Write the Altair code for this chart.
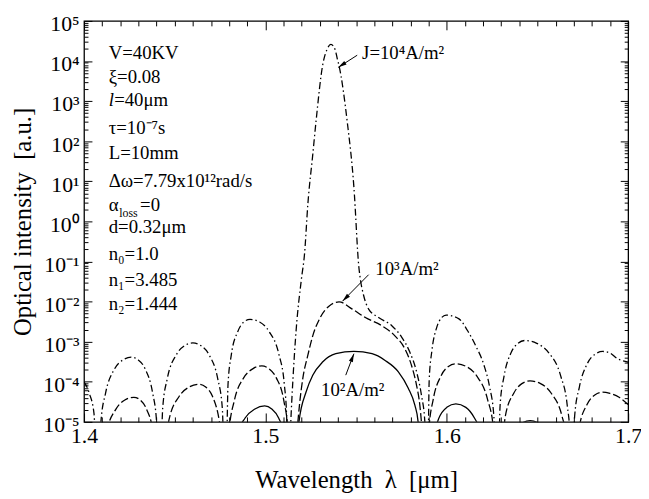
import altair as alt
import pandas as pd

FONT = "Liberation Serif"

# ---- series (wavelength in um, optical intensity in a.u.) ----
# J = 10^4 A/m^2  (dash-dot)
j4 = [(1.4000, 1.0e-4), (1.4030, 5.0e-5), (1.4055, 1.6e-5), (1.4075, 1e-7),
      (1.4093, 1.0e-5), (1.4119, 5.3e-5), (1.4167, 2.05e-4), (1.4214, 3.5e-4), (1.4260, 4.1e-4),
      (1.4299, 3.5e-4), (1.4338, 2.05e-4), (1.4378, 5.3e-5), (1.4400, 1.0e-5), (1.4415, 1e-7),
      (1.4434, 2.3e-5), (1.4459, 1.2e-4), (1.4508, 4.65e-4), (1.4554, 7.9e-4), (1.4600, 9.3e-4),
      (1.4645, 7.9e-4), (1.4690, 4.65e-4), (1.4737, 1.2e-4), (1.4762, 2.3e-5), (1.4780, 1e-7),
      (1.4794, 8.8e-5), (1.4812, 4.7e-4), (1.4848, 1.8e-3), (1.4881, 3.1e-3), (1.4915, 3.6e-3),
      (1.4968, 3.1e-3), (1.5020, 1.8e-3), (1.5075, 4.7e-4), (1.5104, 8.8e-5), (1.5117, 1.4e-5), (1.5125, 1e-7),
      (1.5140, 1.0e-5), (1.5152, 1.2e-4), (1.5170, 2.1e-3), (1.5198, 3.5e-2), (1.5216, 1.6e-1),
      (1.5234, 2.7), (1.5261, 46.0), (1.5279, 310.0), (1.5315, 7.6e3), (1.5343, 2.1e4),
      (1.5361, 2.6e4), (1.5384, 1.95e4), (1.5397, 1.1e4), (1.5406, 7.6e3), (1.5451, 310.0),
      (1.5488, 7.0), (1.5515, 7.4e-2), (1.5524, 3.5e-2), (1.5542, 1.4e-2), (1.5569, 6.5e-3),
      (1.5624, 4.0e-3), (1.5697, 2.5e-3), (1.5751, 1.3e-3), (1.5796, 5.5e-4), (1.5833, 1.8e-4),
      (1.5860, 4.7e-5), (1.5879, 1.0e-5), (1.5893, 1e-7),
      (1.5903, 1.1e-4), (1.5918, 6.0e-4), (1.5945, 2.3e-3), (1.5970, 3.9e-3), (1.5996, 4.6e-3),
      (1.6067, 3.7e-3), (1.6114, 1.9e-3), (1.6160, 7.8e-4), (1.6205, 2.6e-4), (1.6235, 7.8e-5),
      (1.6260, 1.3e-5), (1.6280, 1e-7),
      (1.6294, 2.6e-5), (1.6316, 1.4e-4), (1.6355, 5.35e-4), (1.6393, 9.1e-4), (1.6431, 1.07e-3),
      (1.6496, 9.1e-4), (1.6561, 5.35e-4), (1.6628, 1.4e-4), (1.6664, 2.6e-5), (1.6680, 4.2e-6), (1.6690, 1e-7),
      (1.6705, 1.4e-5), (1.6731, 7.4e-5), (1.6775, 2.85e-4), (1.6818, 4.9e-4), (1.6860, 5.7e-4),
      (1.6900, 5.2e-4), (1.6940, 3.8e-4), (1.7000, 3.1e-4)]

# J = 10^3 A/m^2  (dashed)
j3 = [(1.4000, 9e-6), (1.4035, 4e-6), (1.4075, 1e-7),
      (1.4123, 5.3e-6), (1.4175, 2.05e-5), (1.4225, 3.5e-5), (1.4275, 4.1e-5), (1.4310, 3.5e-5),
      (1.4345, 2.05e-5), (1.4381, 5.3e-6), (1.4415, 1e-7),
      (1.4468, 1.1e-5), (1.4525, 4.35e-5), (1.4580, 7.4e-5), (1.4635, 8.7e-5), (1.4671, 7.4e-5),
      (1.4708, 4.35e-5), (1.4745, 1.1e-5), (1.4766, 2.1e-6), (1.4780, 1e-7),
      (1.4800, 6.1e-6), (1.4828, 3.3e-5), (1.4880, 1.25e-4), (1.4930, 2.1e-4), (1.4980, 2.5e-4),
      (1.5020, 2.1e-4), (1.5060, 1.25e-4), (1.5102, 3.3e-5), (1.5124, 6.1e-6), (1.5140, 1e-7),
      (1.5179, 1.0e-5), (1.5188, 2.7e-5), (1.5206, 1.2e-4), (1.5234, 4.6e-4), (1.5261, 1.4e-3),
      (1.5297, 3.6e-3), (1.5352, 7.8e-3), (1.5406, 9.8e-3), (1.5479, 6.5e-3), (1.5551, 4.0e-3),
      (1.5642, 2.5e-3), (1.5714, 1.4e-3), (1.5769, 6.6e-4), (1.5805, 2.6e-4), (1.5833, 8.3e-5),
      (1.5851, 2.7e-5), (1.5860, 1.0e-5), (1.5885, 1e-7),
      (1.5902, 6.9e-6), (1.5925, 3.6e-5), (1.5968, 1.4e-4), (1.6009, 2.4e-4), (1.6050, 2.8e-4),
      (1.6108, 2.4e-4), (1.6165, 1.4e-4), (1.6225, 3.6e-5), (1.6257, 6.9e-6), (1.6280, 1e-7),
      (1.6323, 1.4e-5), (1.6370, 5.25e-5), (1.6414, 9.0e-5), (1.6459, 1.05e-4), (1.6517, 9.0e-5),
      (1.6575, 5.25e-5), (1.6635, 1.4e-5), (1.6667, 2.6e-6), (1.6690, 1e-7),
      (1.6730, 7.2e-6), (1.6774, 2.75e-5), (1.6816, 4.7e-5), (1.6858, 5.5e-5), (1.6900, 5.1e-5),
      (1.6950, 4.1e-5), (1.7000, 2.7e-5)]

# J = 10^2 A/m^2  (solid)
j2 = [(1.4000, 2e-6), (1.4075, 1e-7), (1.4275, 4e-6), (1.4415, 1e-7), (1.4635, 8e-6), (1.4780, 1e-7),
      (1.4832, 3.3e-6), (1.4888, 1.25e-5), (1.4942, 2.1e-5), (1.4996, 2.5e-5), (1.5035, 2.1e-5),
      (1.5073, 1.25e-5), (1.5113, 3.3e-6), (1.5150, 1e-7),
      (1.5185, 1.0e-5), (1.5225, 5.7e-5), (1.5261, 1.45e-4), (1.5315, 3.1e-4), (1.5388, 5.0e-4),
      (1.5488, 5.7e-4), (1.5588, 5.0e-4), (1.5660, 3.4e-4), (1.5733, 1.77e-4), (1.5787, 7.0e-5),
      (1.5824, 2.6e-5), (1.5842, 1.0e-5), (1.5865, 1e-7),
      (1.5925, 4e-6), (1.5955, 1.2e-5), (1.6000, 2.3e-5), (1.6050, 2.8e-5), (1.6105, 2.3e-5),
      (1.6155, 1.2e-5), (1.6200, 4e-6), (1.6260, 1e-7),
      (1.6350, 4e-6), (1.6410, 9e-6), (1.6460, 1.08e-5), (1.6510, 9e-6), (1.6580, 4e-6), (1.6690, 1e-7),
      (1.6780, 3e-6), (1.6860, 5e-6), (1.7000, 3e-6)]

# ---- ticks ----
x_major = [1.4, 1.5, 1.6, 1.7]
x_minor = [round(1.4 + 0.01 * i, 2) for i in range(1, 30) if i % 10]
y_major = [10.0 ** k for k in range(-5, 6)]
y_minor = [m * 10.0 ** k for k in range(-5, 5) for m in range(2, 10)]

# ---- annotations ----
param_txt = ["V=40KV", "ξ=0.08", "=40μm", "τ=10⁻⁷s", "L=10mm", "Δω=7.79x10¹²rad/s",
             "α", "=0", "d=0.32μm", "n₀=1.0", "n₁=3.485", "n₂=1.444"]
param_lam = [1.4136, 1.4136, 1.4166, 1.4136, 1.4136, 1.4136,
             1.4136, 1.4309, 1.4136, 1.4136, 1.4136, 1.4136]
param_exp = [4.204, 3.596, 3.017, 2.323, 1.700, 1.010,
             0.406, 0.406, -0.141, -0.813, -1.453, -2.069]
ital_txt, ital_lam, ital_exp = ["l"], [1.4136], [3.017]
sub_txt, sub_lam, sub_exp = ["loss"], [1.4194], [0.197]

label_txt = ["J=10⁴A/m²", "10³A/m²", "10²A/m²"]
label_lam = [1.5533, 1.5606, 1.5307]
label_exp = [4.187, -1.182, -4.200]

arrow_lam = [1.5506, 1.5569, 1.5443]
arrow_exp = [4.145, -1.330, -3.835]
head_lam = [1.5402, 1.5425, 1.5488]
head_exp = [3.842, -1.990, -3.300]
head_ang = [237, 225, 21]


def frame(pairs):
    return pd.DataFrame(pairs, columns=["lam", "val"])


df_j4, df_j3, df_j2 = frame(j4), frame(j3), frame(j2)
df_par = pd.DataFrame({"txt": param_txt, "lam": param_lam, "val": [10 ** e for e in param_exp]})
df_ita = pd.DataFrame({"txt": ital_txt, "lam": ital_lam, "val": [10 ** e for e in ital_exp]})
df_sub = pd.DataFrame({"txt": sub_txt, "lam": sub_lam, "val": [10 ** e for e in sub_exp]})
df_lab = pd.DataFrame({"txt": label_txt, "lam": label_lam, "val": [10 ** e for e in label_exp]})
df_arr = pd.DataFrame({"lam": arrow_lam, "val": [10 ** e for e in arrow_exp],
                       "lam2": head_lam, "val2": [10 ** e for e in head_exp], "ang": head_ang})

xs = alt.Scale(domain=[1.4, 1.7], nice=False, zero=False)
ys = alt.Scale(type="log", domain=[1e-5, 1e5], nice=False)

sup_expr = ("'10' + (datum.value < 1 ? '⁻' : '') + "
            "['⁰','¹','²','³','⁴','⁵'][round(abs(log(datum.value) / LN10))]")

ax_x_lab = alt.Axis(orient="bottom", values=x_major, format=".1f", labelFont=FONT, labelFontSize=22,
                    labelColor="black", labelPadding=4, labelFlush=False, labelOverlap=False,
                    ticks=False, tickSize=0, domain=False, grid=False,
                    title="Wavelength\u00a0\u00a0λ\u00a0\u00a0[μm]", titleFont=FONT, titleFontSize=25,
                    titleFontWeight="normal", titleColor="black", titlePadding=21)
ax_y_lab = alt.Axis(orient="left", values=y_major, labelExpr=sup_expr, labelFont=FONT, labelFontSize=22,
                    labelColor="black", labelPadding=5, labelOffset=3, labelFlush=False, labelOverlap=False,
                    ticks=False, tickSize=0, domain=False, grid=False,
                    title="Optical intensity\u00a0\u00a0[a.u.]", titleFont=FONT, titleFontSize=25,
                    titleFontWeight="normal", titleColor="black", titlePadding=8)


def tick_axis(orient, values, size):
    return alt.Axis(orient=orient, values=values, labels=False, ticks=True, tickSize=size,
                    offset=-size, tickColor="black", tickWidth=1, domain=False, grid=False, title=None)


def xe(field, axis):
    return alt.X(field, type="quantitative", scale=xs, axis=axis)


def ye(field, axis):
    return alt.Y(field, type="quantitative", scale=ys, axis=axis)


line_kw = dict(clip=True, color="black", strokeWidth=1.3, interpolate="monotone")

solid = alt.Chart(df_j2).mark_line(**line_kw).encode(x=xe("lam", ax_x_lab), y=ye("val", ax_y_lab))
dashed = alt.Chart(df_j3).mark_line(strokeDash=[8, 3], **line_kw).encode(
    x=xe("lam", tick_axis("bottom", x_major, 9)), y=ye("val", tick_axis("left", y_major, 8)))
dashdot = alt.Chart(df_j4).mark_line(strokeDash=[7, 3, 1.5, 3], **line_kw).encode(
    x=xe("lam", tick_axis("bottom", x_minor, 5)), y=ye("val", tick_axis("left", y_minor, 4)))

arrows = alt.Chart(df_arr).mark_rule(color="black", strokeWidth=1).encode(
    x=xe("lam", tick_axis("top", x_major, 9)), y=ye("val", tick_axis("right", y_major, 8)),
    x2="lam2:Q", y2="val2:Q")
heads = alt.Chart(df_arr).mark_point(shape="M0,0L0.45,1.8L-0.45,1.8Z", filled=True, fill="black",
                                     opacity=1, size=90, strokeWidth=0).encode(
    x=xe("lam2", tick_axis("top", x_minor, 5)), y=ye("val2", tick_axis("right", y_minor, 4)),
    angle=alt.Angle("ang:Q", scale=None))

txt_kw = dict(align="left", baseline="middle", font=FONT, color="black")
t_par = alt.Chart(df_par).mark_text(fontSize=19, **txt_kw).encode(
    x=xe("lam", None), y=ye("val", None), text="txt:N")
t_ita = alt.Chart(df_ita).mark_text(fontSize=19, fontStyle="italic", **txt_kw).encode(
    x=xe("lam", None), y=ye("val", None), text="txt:N")
t_sub = alt.Chart(df_sub).mark_text(fontSize=12, **txt_kw).encode(
    x=xe("lam", None), y=ye("val", None), text="txt:N")
t_lab = alt.Chart(df_lab).mark_text(fontSize=19, **txt_kw).encode(
    x=xe("lam", None), y=ye("val", None), text="txt:N")

chart = alt.layer(solid, dashed, dashdot, arrows, heads, t_par, t_ita, t_sub, t_lab).resolve_axis(
    x="independent", y="independent"
).properties(
    width=551, height=406,
    autosize=alt.AutoSizeParams(type="none"),
    padding={"left": 77, "top": 10, "right": 13, "bottom": 73},
    background="white",
).configure_view(stroke="black", strokeWidth=1.3)

chart.save("out.html", embed_options={"renderer": "svg", "actions": False})
